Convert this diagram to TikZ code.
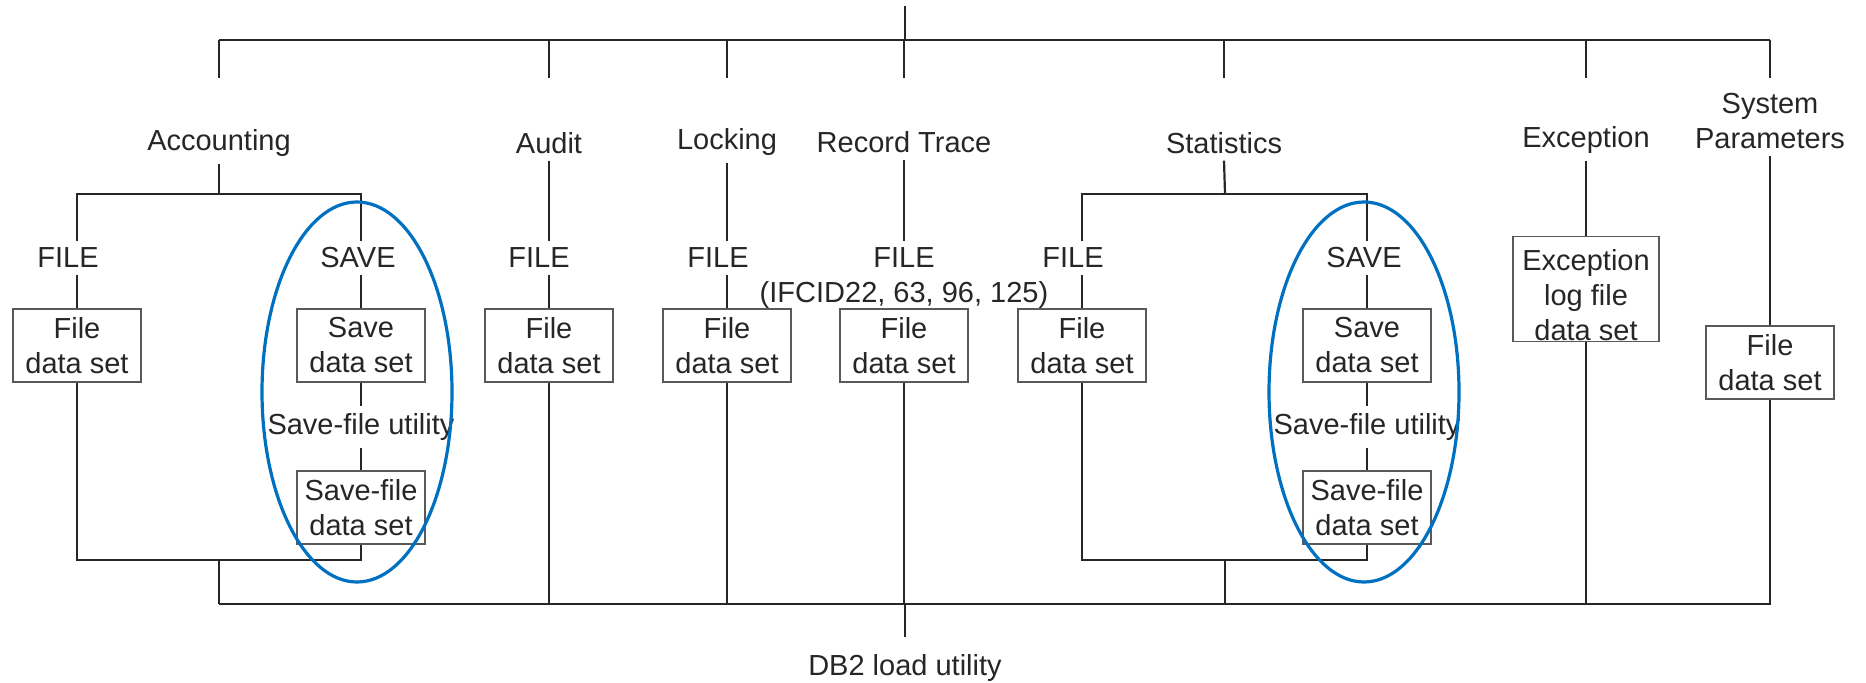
\documentclass[tikz,border=0pt]{standalone}
\usepackage{fontspec}
\setmainfont{Liberation Sans}
\usetikzlibrary{shapes.geometric}
\definecolor{hlblue}{RGB}{0,112,192}
\tikzset{
  wire/.style={line width=1.1pt,color=black!85},
  dset/.style={draw=black!65,line width=0.7pt,minimum width=64pt,minimum height=36.5pt,inner sep=0pt,align=center},
  grp/.style={align=center},
  hilite/.style={draw=hlblue,line width=1.6pt,ellipse,minimum width=95pt,minimum height=190pt,inner sep=0pt}
}

\begin{document}
\begin{tikzpicture}[x=0.5pt,y=-0.5pt,font=\fontsize{14.5pt}{17.5pt}\selectfont,text=black!85]
      \useasboundingbox (0,0) rectangle (1866,683);
      \coordinate (top) at (905,6);
      \coordinate (tb) at (905,40);
      \coordinate (bb) at (905,604);

      \node[grp] (acc) at (219,143) {Accounting};
      \node[grp] (aud) at (549,143) {Audit};
      \node[grp] (lck) at (727,142) {Locking};
      \node[grp] (rec) at (904,142) {Record Trace};
      \node[grp] (sta) at (1224,143) {Statistics};
      \node[grp] (exc) at (1586,140) {Exception};
      \node[grp] (sys) at (1770,121) {System\\Parameters};

      \draw[wire] (top) -- (tb);
      \draw[wire] (acc |- tb) -- (sys |- tb);
      \foreach \n in {acc,aud,lck,rec,sta,exc,sys}
      \draw[wire] (\n |- tb) -- ++(0,38);

      % Accounting and Statistics
      \foreach \g/\fx/\sx/\bx in {acc/77/361/219,sta/1082/1367/1225} {
        \node (\g-f) at (\fx-9,258) {FILE};
        \node (\g-s) at (\sx-3,258) {SAVE};
        \node[dset] (\g-fd) at (\fx,345.5) {File\\data set};
        \node[dset] (\g-sd) at (\sx,345.5) {Save\\data set};
        \node (\g-u) at (\sx,427) {Save-file utility};
        \node[dset] (\g-sf) at (\sx,507.5) {Save-file\\data set};
        \coordinate (\g-b) at (\bx,194);
        \coordinate (\g-j) at (\bx,560);
        \draw[wire] (\g.south) -- (\g-b);
        \draw[wire] (\g-fd |- \g-f.north) |- (\g-b) -| (\g-sd |- \g-s.north);
        \draw[wire] (\g-fd |- \g-f.south) -- (\g-fd.north);
        \draw[wire] (\g-sd |- \g-s.south) -- (\g-sd.north);
        \draw[wire] (\g-sd.south) -- (\g-sd |- \g-u.north);
        \draw[wire] (\g-sd |- \g-u.south) -- (\g-sf.north);
        \draw[wire] (\g-fd.south) |- (\g-j) -| (\g-sf.south);
        \draw[wire] (\g-j) -- (\g-j |- bb);
      }

      % single FILE columns
      \foreach \g/\x/\fx in {aud/549/539,lck/727/718,rec/904/904} {
        \node (\g-f) at (\fx,258) {FILE};
        \node[dset] (\g-fd) at (\x,345.5) {File\\data set};
        \draw[wire] (\g.south) -- (\g-fd |- \g-f.north);
        \draw[wire] (\g-fd.south) -- (\g-fd |- bb);
      }
      \foreach \g in {aud,lck}
      \draw[wire] (\g-fd |- \g-f.south) -- (\g-fd.north);
      \node (ifcid) at (904,295) {(IFCID22, 63, 96, 125)};

      \node[dset,minimum width=73pt,minimum height=52pt] (exc-d) at (1586,289)
        {\raisebox{-5pt}[\height][\depth]{\begin{tabular}{@{}c@{}}Exception\\log file\\data set\end{tabular}}};
      \node[dset] (sys-d) at (1770,362.5) {File\\data set};
      \draw[wire] (exc.south) -- (exc-d.north);
      \draw[wire] (sys.south) -- (sys-d.north);
      \draw[wire] (exc-d.south) -- (exc-d |- bb);
      \draw[wire] (sys-d.south) |- (exc-d |- bb);

      \draw[wire] (acc-j |- bb) -- (exc-d |- bb);
      \node (db2) at (905,668) {DB2 load utility};
      \draw[wire] (bb) -- ([yshift=5pt]db2.north);

      \node[hilite] (hl-acc) at (357,392) {};
      \node[hilite] (hl-sta) at (1364,392) {};
    \end{tikzpicture}
\end{document}
